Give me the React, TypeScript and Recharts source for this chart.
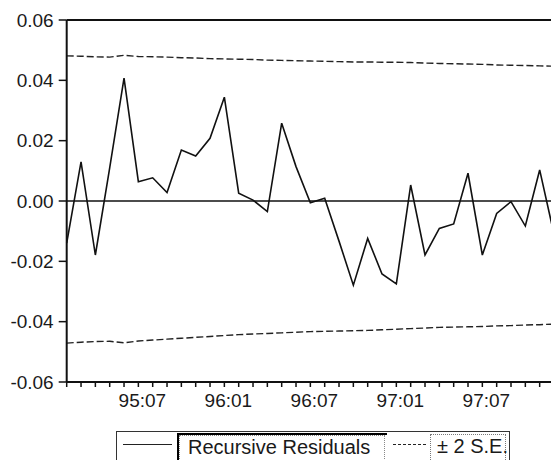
import { LineChart, Line, XAxis, YAxis, ReferenceLine } from 'recharts'

const months = [
  '95:02', '95:03', '95:04', '95:05', '95:06', '95:07', '95:08', '95:09', '95:10', '95:11', '95:12',
  '96:01', '96:02', '96:03', '96:04', '96:05', '96:06', '96:07', '96:08', '96:09', '96:10', '96:11', '96:12',
  '97:01', '97:02', '97:03', '97:04', '97:05', '97:06', '97:07', '97:08', '97:09', '97:10', '97:11', '97:12',
]

const residuals = [
  -0.014, 0.013, -0.0179, 0.011, 0.0407, 0.0064, 0.0077, 0.0028, 0.0169, 0.0149, 0.0208,
  0.0344, 0.0026, 0.0003, -0.0035, 0.0258, 0.0114, -0.0006, 0.0009, -0.0133, -0.0279, -0.0124, -0.0242,
  -0.0275, 0.0053, -0.0179, -0.0091, -0.0076, 0.0092, -0.0179, -0.0041, -0.0002, -0.0083, 0.0103, -0.011,
]

const upperBand = [
  0.0481, 0.048, 0.0478, 0.0477, 0.0483, 0.0479, 0.0478, 0.0477, 0.0475, 0.0474, 0.0472,
  0.0471, 0.047, 0.0469, 0.0467, 0.0466, 0.0465, 0.0464, 0.0463, 0.0462, 0.0461, 0.0461, 0.046,
  0.046, 0.0459, 0.0457, 0.0456, 0.0455, 0.0454, 0.0453, 0.0451, 0.045, 0.0449, 0.0448, 0.0447,
]

const lowerBand = [
  -0.0471, -0.0468, -0.0466, -0.0465, -0.047, -0.0464, -0.0461, -0.0458, -0.0455, -0.0452, -0.0449,
  -0.0446, -0.0443, -0.0441, -0.0439, -0.0437, -0.0435, -0.0433, -0.0432, -0.0431, -0.043, -0.0429, -0.0427,
  -0.0425, -0.0423, -0.0421, -0.0419, -0.0418, -0.0417, -0.0416, -0.0414, -0.0413, -0.0411, -0.041, -0.0408,
]

const yTicks = [-0.06, -0.04, -0.02, 0, 0.02, 0.04, 0.06]
const xTickLabels = ['95:07', '96:01', '96:07', '97:01', '97:07']

const data = months.map((m, i) => ({
  month: m,
  resid: residuals[i],
  upper: upperBand[i],
  lower: lowerBand[i],
}))

const font = '"Liberation Sans", Arial, sans-serif'
const ink = '#1a1a1a'

function LegendBox() {
  return (
    <div style={{
      position: 'absolute', left: 116, top: 431, width: 394, height: 32,
      border: '1px solid #333', boxSizing: 'border-box', fontFamily: font,
      fontSize: 20, color: ink, background: '#fff',
    }}>
      <div style={{ position: 'absolute', left: 6, top: 12, width: 49, borderTop: '1.5px solid #222' }} />
      <div style={{
        position: 'absolute', left: 60, top: 1, width: 210, height: 30,
        borderLeft: '2px solid #000', borderTop: '2px solid #000', boxSizing: 'border-box',
        outline: '1px dotted #888', outlineOffset: -3,
      }}>
        <span style={{ position: 'absolute', left: 9, top: 1, whiteSpace: 'nowrap' }}>Recursive Residuals</span>
      </div>
      <div style={{ position: 'absolute', left: 276, top: 12, width: 33, borderTop: '1.5px dashed #222' }} />
      <div style={{
        position: 'absolute', left: 313, top: 2, width: 76, height: 28,
        border: '1px dotted #777', boxSizing: 'border-box',
      }}>
        <span style={{ position: 'absolute', left: 6, top: 0, whiteSpace: 'nowrap' }}>± 2 S.E.</span>
      </div>
    </div>
  )
}

export default function App() {
  return (
    <div style={{
      position: 'fixed', left: 0, top: 0, width: 551, height: 460,
      overflow: 'hidden', background: '#fff',
    }}>
      <LineChart width={559} height={425} data={data}
        margin={{ top: 20, right: 5, bottom: 5, left: 0 }}>
        <XAxis
          dataKey="month"
          interval={0}
          height={38}
          tickSize={5}
          tickMargin={7}
          axisLine={{ stroke: '#111', strokeWidth: 2 }}
          tickLine={{ stroke: '#111', strokeWidth: 1.5 }}
          tick={{ fill: ink, fontSize: 19, fontFamily: font, dx: 4 }}
          tickFormatter={(v: string) => (xTickLabels.includes(v) ? v : '')}
        />
        <YAxis
          type="number"
          domain={[-0.06, 0.06]}
          ticks={yTicks}
          width={66.7}
          tickSize={8}
          tickMargin={5}
          axisLine={{ stroke: '#111', strokeWidth: 2 }}
          tickLine={{ stroke: '#111', strokeWidth: 1.5 }}
          tick={{ fill: ink, fontSize: 19, fontFamily: font }}
          tickFormatter={(v: number) => v.toFixed(2)}
        />
        <ReferenceLine y={0.06} stroke="#111" strokeWidth={2} />
        <ReferenceLine y={0} stroke="#111" strokeWidth={1.5} />
        <Line type="linear" dataKey="upper" stroke="#222" strokeWidth={1.4}
          strokeDasharray="7 3" dot={false} isAnimationActive={false} />
        <Line type="linear" dataKey="lower" stroke="#222" strokeWidth={1.4}
          strokeDasharray="7 3" dot={false} isAnimationActive={false} />
        <Line type="linear" dataKey="resid" stroke="#111" strokeWidth={1.6}
          dot={false} isAnimationActive={false} />
      </LineChart>
      <LegendBox />
    </div>
  )
}
